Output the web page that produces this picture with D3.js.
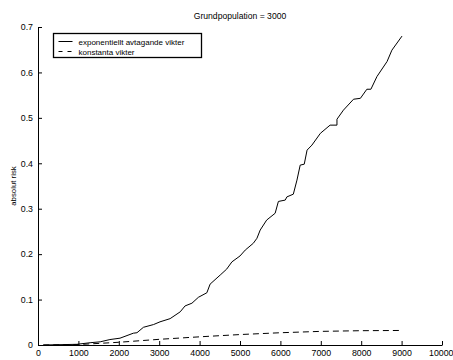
<!DOCTYPE html>
<html>
<head>
<meta charset="utf-8">
<script src="https://cdn.jsdelivr.net/npm/d3@7"></script>
<style>
	body {margin: 0; background: #fff;}
	svg {display: block; font-family: "Liberation Sans", Arial, sans-serif;}
</style>
</head>
<body>
<svg id="chart" width="453" height="360"></svg>
<script>
	'use strict';

	var titleText = 'Grundpopulation = 3000';
	var yLabel = 'absolut risk';
	var seriesNames = ['exponentiellt avtagande vikter', 'konstanta vikter'];
	var xTicks = [0, 1000, 2000, 3000, 4000, 5000, 6000, 7000, 8000, 9000, 10000];
	var yTicks = [0, 0.1, 0.2, 0.3, 0.4, 0.5, 0.6, 0.7];

	// exponentiellt avtagande vikter (solid)
	var expX = [130, 960, 1290, 1540, 1780, 2030, 2360, 2450, 2610, 2860, 3020, 3270, 3520, 3640,
		3810, 3970, 4180, 4260, 4510, 4670, 4800, 5000, 5130, 5330, 5420, 5500, 5660, 5870, 5950,
		6120, 6160, 6320, 6410, 6490, 6590, 6660, 6780, 6990, 7230, 7400, 7400, 7560, 7810, 7980,
		8140, 8240, 8390, 8640, 8760, 9010];
	var expY = [0, 0.0015, 0.005, 0.007, 0.012, 0.015, 0.026, 0.027, 0.039, 0.045, 0.051, 0.058,
		0.073, 0.086, 0.092, 0.105, 0.115, 0.134, 0.154, 0.167, 0.183, 0.196, 0.209, 0.224, 0.235,
		0.253, 0.275, 0.29, 0.316, 0.319, 0.326, 0.332, 0.363, 0.396, 0.398, 0.429, 0.44, 0.466,
		0.484, 0.484, 0.497, 0.517, 0.541, 0.543, 0.563, 0.563, 0.591, 0.624, 0.649, 0.68];

	// konstanta vikter (dashed)
	var konX = [130, 1000, 2000, 3000, 4000, 5000, 6000, 7000, 8000, 9000];
	var konY = [0, 0.001, 0.006, 0.0125, 0.018, 0.023, 0.027, 0.030, 0.0315, 0.032];

	var margin = {left: 38, right: 11, top: 27, bottom: 15};
	var width = 453, height = 360;

	var svg = d3.select('#chart');

	var x = d3.scaleLinear().domain([0, 10000]).range([margin.left, width - margin.right]);
	var y = d3.scaleLinear().domain([0, 0.7]).range([height - margin.bottom, margin.top]);

	// axes, ticks pointing inward
	var xAxis = d3.axisBottom(x).tickValues(xTicks).tickSizeInner(-4).tickSizeOuter(0)
		.tickPadding(8).tickFormat(d3.format('d'));
	var yAxis = d3.axisLeft(y).tickValues(yTicks).tickSizeInner(-4).tickSizeOuter(0)
		.tickPadding(5).tickFormat(function(d) {return d === 0 ? '0' : d3.format('.1f')(d);});

	var gx = svg.append('g').attr('transform', 'translate(0,' + (height - margin.bottom) + ')').call(xAxis);
	var gy = svg.append('g').attr('transform', 'translate(' + margin.left + ',0)').call(yAxis);

	[gx, gy].forEach(function(g) {
		g.selectAll('path, line').attr('stroke', '#000');
		g.selectAll('text').attr('fill', '#000').attr('font-size', 8.8)
			.attr('font-family', '"Liberation Sans", Arial, sans-serif');});
	gx.selectAll('text').attr('dy', '0.3em');
	// keep the last label inside the window
	gx.selectAll('.tick text').filter(function(d) {return d === 10000;})
		.attr('text-anchor', 'end').attr('x', 11);

	var line = d3.line()
		.x(function(d) {return x(d[0]);})
		.y(function(d) {return y(d[1]);});

	svg.append('path')
		.datum(d3.zip(expX, expY))
		.attr('fill', 'none')
		.attr('stroke', '#000')
		.attr('stroke-width', 1)
		.attr('d', line);

	svg.append('path')
		.datum(d3.zip(konX, konY))
		.attr('fill', 'none')
		.attr('stroke', '#000')
		.attr('stroke-width', 1)
		.attr('stroke-dasharray', '6,4')
		.attr('d', line);

	// title
	svg.append('text')
		.attr('x', 240).attr('y', 19)
		.attr('text-anchor', 'middle')
		.attr('font-size', 8.6)
		.text(titleText);

	// y label
	svg.append('text')
		.attr('transform', 'translate(16,' + y(0.35) + ') rotate(-90)')
		.attr('text-anchor', 'middle')
		.attr('font-size', 7.8)
		.text(yLabel);

	// legend
	var legend = svg.append('g').attr('transform', 'translate(53.5,33.5)');
	legend.append('rect')
		.attr('width', 148).attr('height', 24)
		.attr('fill', '#fff').attr('stroke', '#000').attr('stroke-width', 1.3);
	seriesNames.forEach(function(name, i) {
		var ly = 8 + i * 10;
		legend.append('line')
			.attr('x1', 5).attr('x2', 19).attr('y1', ly).attr('y2', ly)
			.attr('stroke', '#000').attr('stroke-width', 1)
			.attr('stroke-dasharray', i === 1 ? '4,5' : null);
		legend.append('text')
			.attr('x', 25).attr('y', ly + 3)
			.attr('font-size', 8)
			.text(name);});
</script>
</body>
</html>
